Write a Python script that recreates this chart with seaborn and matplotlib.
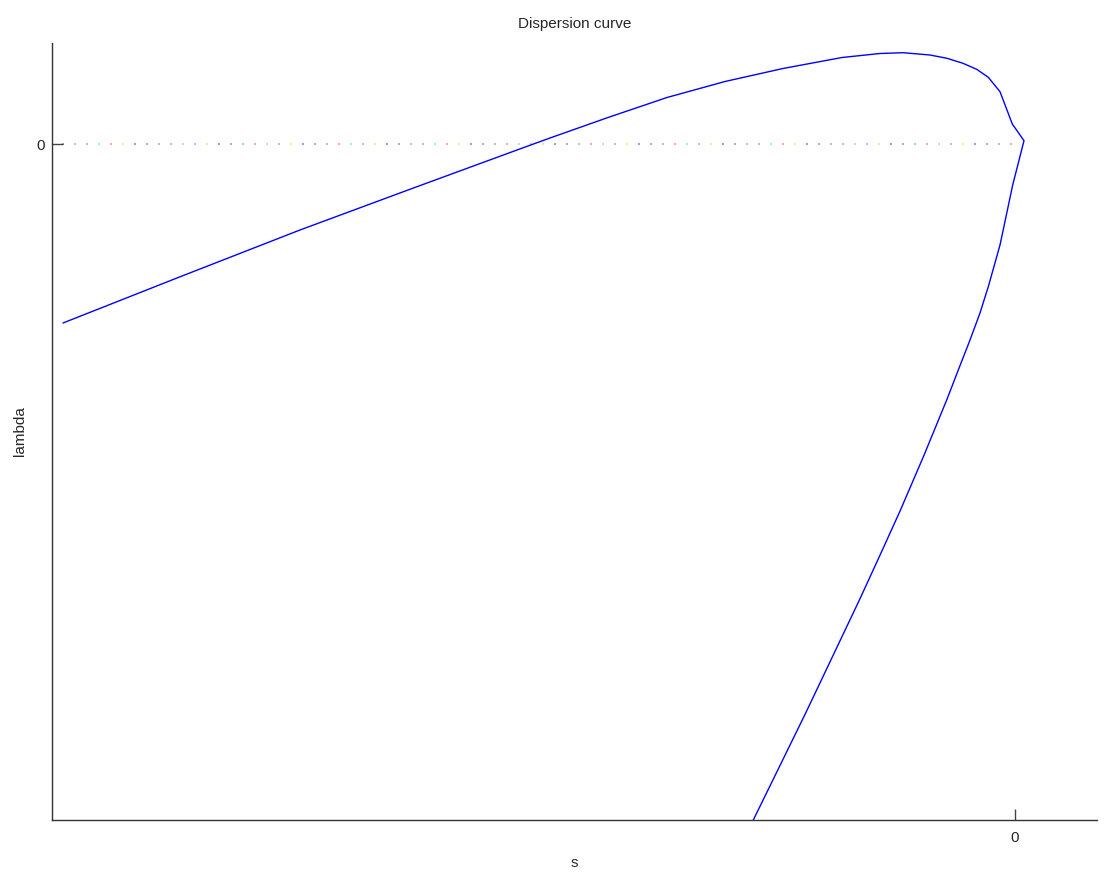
import numpy as np
import pandas as pd
import matplotlib
matplotlib.use("Agg")
import matplotlib.pyplot as plt
import seaborn as sns

# Dispersion curve (one continuous branch: upper part, tip, lower part)
s_vals = [-9.52, -8.35, -7.15, -6.07, -4.98, -4.65, -4.07, -3.48, -2.90, -2.32,
          -1.73, -1.35, -1.12, -0.85, -0.68, -0.52, -0.383, -0.267, -0.15, -0.027,
          0.09,
          -0.023, -0.097, -0.15, -0.267, -0.35, -0.45, -0.567, -0.683, -0.909,
          -1.145, -1.34, -1.556, -2.093, -2.617]
lambda_vals = [-1.79, -1.328, -0.86, -0.46, -0.06, 0.06, 0.265, 0.465, 0.625, 0.755,
               0.865, 0.905, 0.913, 0.89, 0.857, 0.807, 0.747, 0.667, 0.523, 0.20,
               0.033,
               -0.41, -0.76, -1.01, -1.427, -1.69, -1.96, -2.26, -2.56, -3.11,
               -3.66, -4.09, -4.56, -5.69, -6.76]

# zero reference line drawn as dots in the default colour order
zero_s = np.arange(80) * 0.12 - 9.52
dot_colors = ['b', 'g', 'r', 'c', 'm', 'y', 'k']

data = pd.DataFrame({'s': s_vals, 'lambda': lambda_vals})

sns.set_style("white")
plt.rcParams['font.family'] = ['Liberation Sans', 'DejaVu Sans']

fig = plt.figure(figsize=(11.13, 8.74), dpi=100)
ax = fig.add_axes([52 / 1113, 54 / 874, 1045 / 1113, 777 / 874])

ax.scatter(zero_s, np.zeros(len(zero_s)), s=3, marker='s', linewidths=0,
           c=[dot_colors[i % 7] for i in range(len(zero_s))], alpha=0.35, zorder=1)
sns.lineplot(data=data, x='s', y='lambda', sort=False, estimator=None,
             color='blue', linewidth=1.0, ax=ax, zorder=2)

ax.set_xlim(-9.63, 0.82)
ax.set_ylim(-6.76, 1.01)
ax.set_xticks([0])
ax.set_yticks([0])
ax.tick_params(bottom=True, left=True, direction='in', length=8, width=1,
               color='#444444', labelsize=11)
ax.tick_params(axis='x', pad=8)
ax.tick_params(axis='y', pad=5)
for side in ['top', 'right']:
    ax.spines[side].set_visible(False)
for side in ['left', 'bottom']:
    ax.spines[side].set_color('#333333')
    ax.spines[side].set_linewidth(1.0)

ax.set_xlabel("s", fontsize=11, labelpad=8)
ax.set_ylabel("lambda", fontsize=11, labelpad=7)
ax.set_title("Dispersion curve", fontsize=11, pad=11)

plt.savefig("out.png", dpi=100)
plt.close()
